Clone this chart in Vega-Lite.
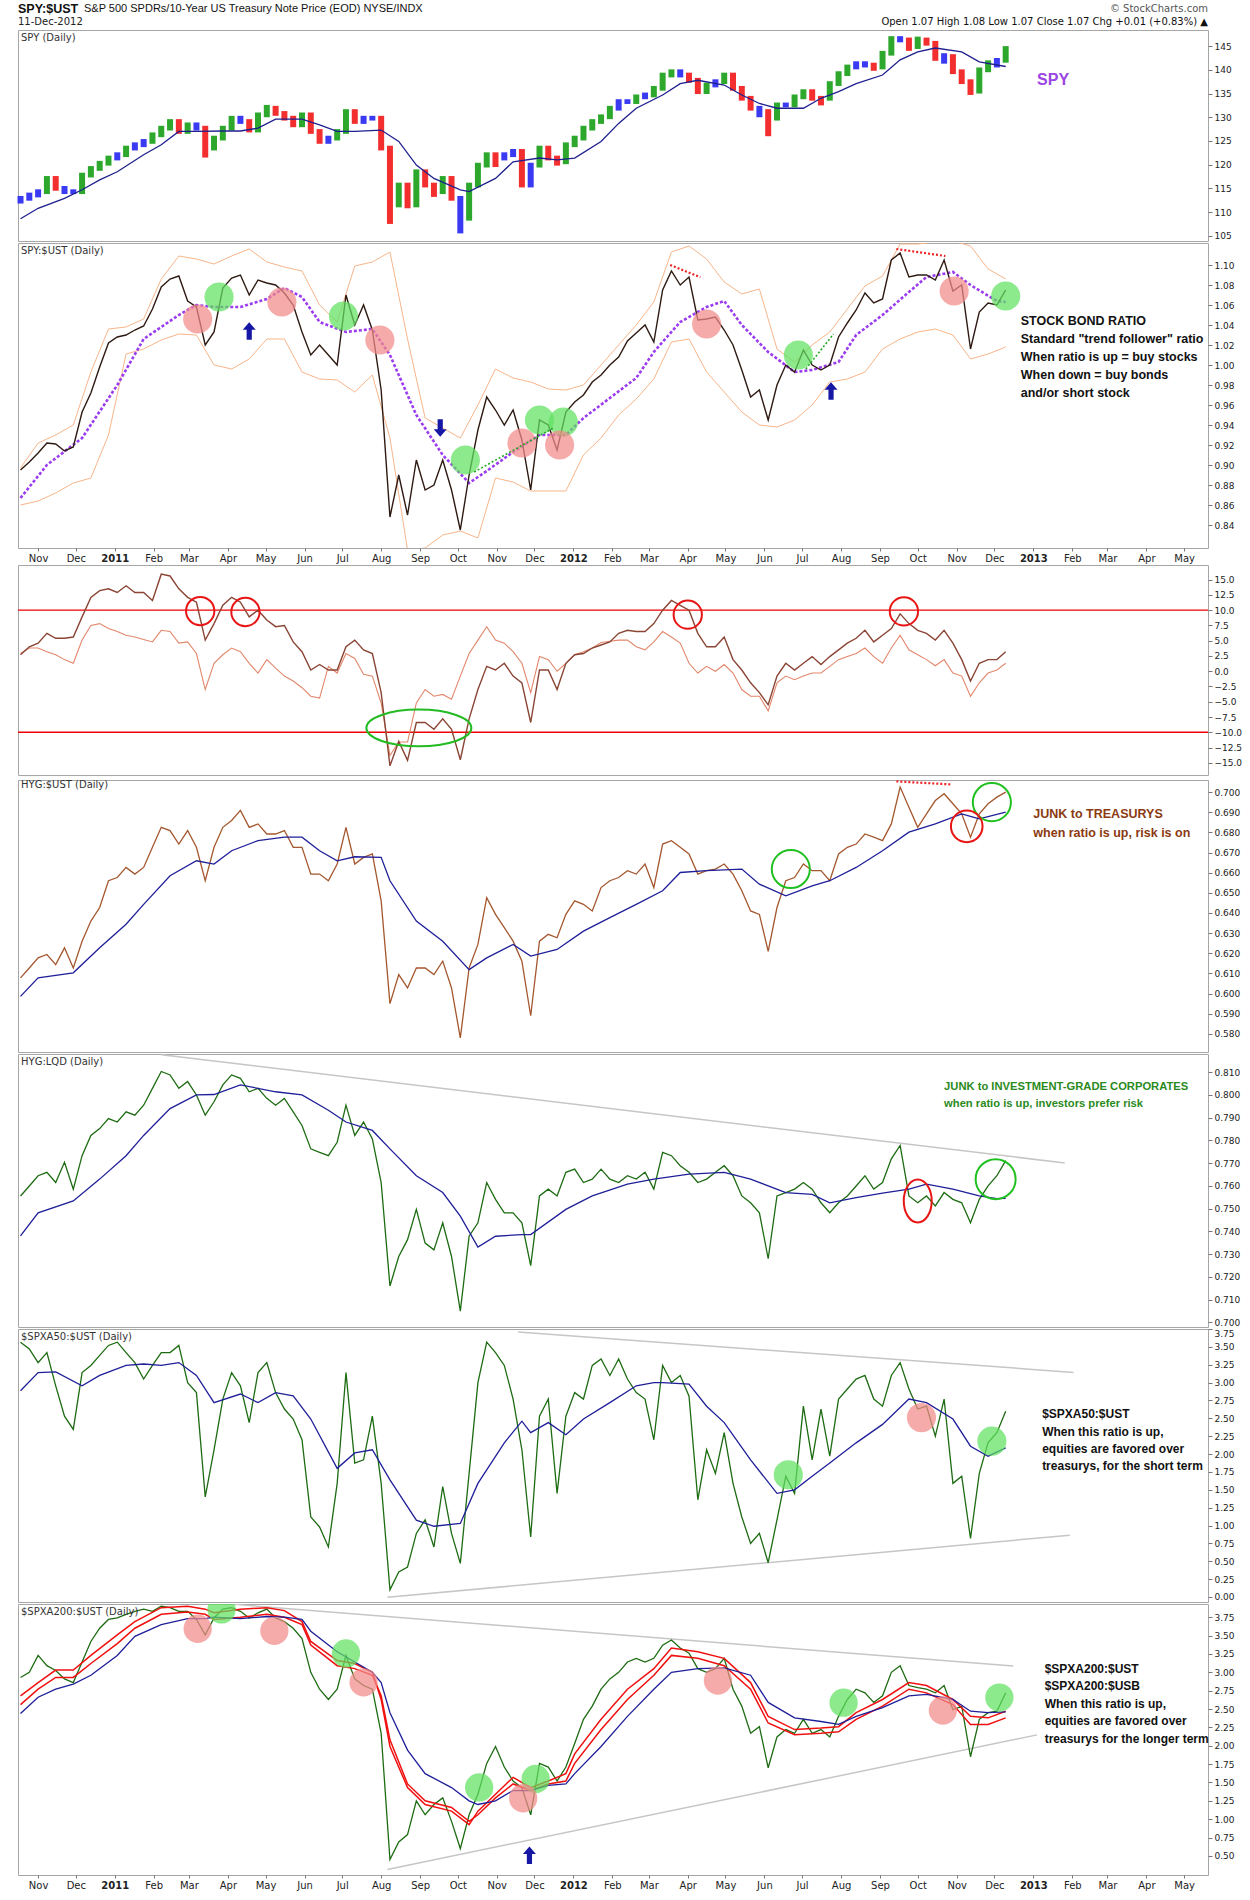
{
  "$schema": "https://vega.github.io/schema/vega-lite/v6.json",
  "background": "white",
  "padding": {"left": 16, "top": 2, "right": 4, "bottom": 0},
  "spacing": 0,
  "resolve": {"scale": {"x": "independent", "y": "independent", "color": "independent"}},
  "config": {
    "font": "DejaVu Sans",
    "view": {"stroke": "#a6a6a6", "strokeWidth": 1},
    "axis": {"grid": false, "domain": false, "tickSize": 4, "tickColor": "#777777", "labelFontSize": 9, "labelColor": "#222222", "labelPadding": 2, "labelOverlap": false, "labelFlush": false, "labelFont": "DejaVu Sans"},
    "title": {"anchor": "start", "frame": "group", "offset": -13, "dx": 3, "fontSize": 10, "fontWeight": "normal", "color": "#333333", "font": "DejaVu Sans"}
  },
  "datasets": {
    "w": [
      {"d":"2010-10-18","lo":111.8,"hi":113.4,"c":"b","r":0.895,"m1":2.7,"m2":2.9,"hy":0.6078,"hl":0.7556,"a5":3.566,"a2":2.93},
      {"d":"2010-10-25","lo":112.4,"hi":114.1,"c":"b","r":0.903,"m1":4.0,"m2":3.8,"hy":0.6127,"hl":0.760,"a5":3.47,"a2":3.0},
      {"d":"2010-11-01","lo":113.1,"hi":114.8,"c":"b","r":0.912,"m1":4.6,"m2":3.8,"hy":0.6177,"hl":0.7645,"a5":3.28,"a2":3.23},
      {"d":"2010-11-08","lo":113.8,"hi":117.6,"c":"g","r":0.922,"m1":6.2,"m2":3.2,"hy":0.6194,"hl":0.766,"a5":3.42,"a2":3.09},
      {"d":"2010-11-15","lo":114.5,"hi":117.6,"c":"r","r":0.921,"m1":5.4,"m2":2.7,"hy":0.6144,"hl":0.7615,"a5":2.955,"a2":3.025},
      {"d":"2010-11-22","lo":113.8,"hi":115.5,"c":"b","r":0.914,"m1":5.4,"m2":1.9,"hy":0.6227,"hl":0.7704,"a5":2.53,"a2":2.91},
      {"d":"2010-11-29","lo":113.8,"hi":114.8,"c":"b","r":0.918,"m1":5.6,"m2":1.3,"hy":0.6127,"hl":0.7586,"a5":2.345,"a2":2.86},
      {"d":"2010-12-06","lo":113.8,"hi":118.3,"c":"g","r":0.953,"m1":8.9,"m2":5.1,"hy":0.626,"hl":0.7733,"a5":3.14,"a2":3.14},
      {"d":"2010-12-13","lo":117.3,"hi":119.7,"c":"g","r":0.972,"m1":12.1,"m2":7.5,"hy":0.636,"hl":0.7822,"a5":3.24,"a2":3.42},
      {"d":"2010-12-20","lo":118.7,"hi":120.8,"c":"g","r":0.998,"m1":13.2,"m2":7.8,"hy":0.6427,"hl":0.7852,"a5":3.38,"a2":3.60},
      {"d":"2010-12-27","lo":119.8,"hi":121.9,"c":"g","r":1.022,"m1":13.5,"m2":7.0,"hy":0.656,"hl":0.7896,"a5":3.52,"a2":3.72},
      {"d":"2011-01-03","lo":120.9,"hi":122.6,"c":"b","r":1.028,"m1":12.9,"m2":6.5,"hy":0.6576,"hl":0.7881,"a5":3.566,"a2":3.74},
      {"d":"2011-01-10","lo":121.6,"hi":124.0,"c":"g","r":1.03,"m1":14.0,"m2":5.9,"hy":0.6626,"hl":0.7926,"a5":3.42,"a2":3.79},
      {"d":"2011-01-17","lo":123.0,"hi":124.7,"c":"b","r":1.035,"m1":12.9,"m2":5.6,"hy":0.6593,"hl":0.7911,"a5":3.28,"a2":3.83},
      {"d":"2011-01-24","lo":123.7,"hi":125.4,"c":"b","r":1.039,"m1":12.9,"m2":5.2,"hy":0.6626,"hl":0.7955,"a5":3.05,"a2":3.86},
      {"d":"2011-01-31","lo":124.4,"hi":126.8,"c":"g","r":1.056,"m1":11.6,"m2":4.8,"hy":0.6726,"hl":0.8029,"a5":3.24,"a2":3.83},
      {"d":"2011-02-07","lo":125.8,"hi":128.2,"c":"g","r":1.078,"m1":15.9,"m2":6.7,"hy":0.6825,"hl":0.8103,"a5":3.42,"a2":3.90},
      {"d":"2011-02-14","lo":127.2,"hi":129.6,"c":"g","r":1.086,"m1":15.6,"m2":6.5,"hy":0.6809,"hl":0.8088,"a5":3.42,"a2":3.88},
      {"d":"2011-02-21","lo":126.5,"hi":129.6,"c":"r","r":1.089,"m1":13.5,"m2":4.6,"hy":0.6742,"hl":0.8029,"a5":3.52,"a2":3.83},
      {"d":"2011-02-28","lo":126.5,"hi":128.9,"c":"g","r":1.064,"m1":12.1,"m2":4.8,"hy":0.6809,"hl":0.8059,"a5":3.0,"a2":3.83},
      {"d":"2011-03-07","lo":127.2,"hi":128.9,"c":"b","r":1.058,"m1":11.3,"m2":2.9,"hy":0.6726,"hl":0.80,"a5":2.86,"a2":3.72},
      {"d":"2011-03-14","lo":121.5,"hi":128.2,"c":"r","r":1.02,"m1":5.1,"m2":-3.0,"hy":0.656,"hl":0.7911,"a5":1.4,"a2":3.51},
      {"d":"2011-03-21","lo":123.0,"hi":126.1,"c":"g","r":1.033,"m1":7.8,"m2":1.3,"hy":0.6726,"hl":0.797,"a5":2.06,"a2":3.74},
      {"d":"2011-03-28","lo":125.1,"hi":128.2,"c":"g","r":1.077,"m1":10.8,"m2":2.7,"hy":0.6825,"hl":0.8044,"a5":2.77,"a2":3.86},
      {"d":"2011-04-04","lo":127.2,"hi":130.3,"c":"g","r":1.087,"m1":12.1,"m2":3.8,"hy":0.6859,"hl":0.8088,"a5":3.14,"a2":3.88},
      {"d":"2011-04-11","lo":128.6,"hi":130.3,"c":"b","r":1.09,"m1":11.3,"m2":3.2,"hy":0.6909,"hl":0.8073,"a5":2.955,"a2":3.83},
      {"d":"2011-04-18","lo":126.8,"hi":129.6,"c":"r","r":1.07,"m1":8.9,"m2":1.3,"hy":0.6825,"hl":0.8014,"a5":2.44,"a2":3.74},
      {"d":"2011-04-25","lo":126.8,"hi":131.0,"c":"g","r":1.085,"m1":10.0,"m2":-0.3,"hy":0.6842,"hl":0.8029,"a5":3.14,"a2":3.81},
      {"d":"2011-05-02","lo":130.0,"hi":132.6,"c":"g","r":1.082,"m1":8.4,"m2":1.9,"hy":0.6792,"hl":0.7985,"a5":3.28,"a2":3.86},
      {"d":"2011-05-09","lo":130.3,"hi":132.4,"c":"r","r":1.08,"m1":7.3,"m2":0.5,"hy":0.6792,"hl":0.7955,"a5":2.86,"a2":3.74},
      {"d":"2011-05-16","lo":129.3,"hi":131.3,"c":"r","r":1.072,"m1":7.5,"m2":-0.8,"hy":0.6809,"hl":0.7985,"a5":2.63,"a2":3.69},
      {"d":"2011-05-23","lo":127.9,"hi":130.3,"c":"r","r":1.06,"m1":4.8,"m2":-1.6,"hy":0.6726,"hl":0.7926,"a5":2.49,"a2":3.60},
      {"d":"2011-05-30","lo":127.9,"hi":131.0,"c":"g","r":1.033,"m1":3.2,"m2":-2.7,"hy":0.6726,"hl":0.7866,"a5":2.20,"a2":3.46},
      {"d":"2011-06-06","lo":126.5,"hi":131.0,"c":"r","r":1.01,"m1":0.2,"m2":-4.1,"hy":0.6593,"hl":0.7763,"a5":1.12,"a2":3.0},
      {"d":"2011-06-13","lo":124.4,"hi":127.5,"c":"r","r":1.02,"m1":1.1,"m2":-4.4,"hy":0.6593,"hl":0.7748,"a5":0.98,"a2":2.77},
      {"d":"2011-06-20","lo":124.4,"hi":126.1,"c":"b","r":1.01,"m1":0.2,"m2":0.8,"hy":0.656,"hl":0.7733,"a5":0.7,"a2":2.63},
      {"d":"2011-06-27","lo":125.1,"hi":127.5,"c":"g","r":1.0,"m1":0.2,"m2":-0.3,"hy":0.6643,"hl":0.7792,"a5":1.59,"a2":2.77},
      {"d":"2011-07-04","lo":126.5,"hi":131.7,"c":"g","r":1.07,"m1":4.0,"m2":2.9,"hy":0.6825,"hl":0.7955,"a5":3.14,"a2":3.23},
      {"d":"2011-07-11","lo":128.6,"hi":131.7,"c":"r","r":1.04,"m1":5.1,"m2":2.1,"hy":0.6643,"hl":0.7822,"a5":1.875,"a2":2.91},
      {"d":"2011-07-18","lo":128.6,"hi":130.3,"c":"b","r":1.06,"m1":3.5,"m2":-0.5,"hy":0.6676,"hl":0.7881,"a5":1.92,"a2":2.82},
      {"d":"2011-07-25","lo":129.3,"hi":130.3,"c":"b","r":1.035,"m1":2.9,"m2":-0.8,"hy":0.6693,"hl":0.7807,"a5":2.53,"a2":2.77},
      {"d":"2011-08-01","lo":123.0,"hi":130.3,"c":"r","r":0.975,"m1":-3.5,"m2":-5.2,"hy":0.646,"hl":0.7615,"a5":1.59,"a2":2.17},
      {"d":"2011-08-08","lo":107.5,"hi":124.0,"c":"r","r":0.848,"m1":-15.5,"m2":-13.8,"hy":0.595,"hl":0.716,"a5":0.1,"a2":0.45},
      {"d":"2011-08-15","lo":111.0,"hi":116.2,"c":"g","r":0.89,"m1":-11.5,"m2":-11.6,"hy":0.6094,"hl":0.729,"a5":0.35,"a2":0.69},
      {"d":"2011-08-22","lo":110.8,"hi":116.2,"c":"r","r":0.85,"m1":-14.6,"m2":-11.6,"hy":0.6028,"hl":0.7364,"a5":0.42,"a2":0.79},
      {"d":"2011-08-29","lo":111.0,"hi":119.0,"c":"g","r":0.905,"m1":-8.4,"m2":-5.2,"hy":0.6127,"hl":0.7497,"a5":0.89,"a2":1.25},
      {"d":"2011-09-05","lo":115.2,"hi":119.0,"c":"r","r":0.875,"m1":-8.4,"m2":-3.0,"hy":0.6127,"hl":0.7349,"a5":1.08,"a2":1.06},
      {"d":"2011-09-12","lo":113.2,"hi":116.2,"c":"r","r":0.88,"m1":-9.5,"m2":-4.1,"hy":0.6094,"hl":0.7319,"a5":0.70,"a2":1.20},
      {"d":"2011-09-19","lo":113.8,"hi":117.6,"c":"g","r":0.905,"m1":-7.8,"m2":-3.8,"hy":0.6161,"hl":0.7438,"a5":1.546,"a2":1.29},
      {"d":"2011-09-26","lo":112.4,"hi":117.6,"c":"r","r":0.875,"m1":-9.5,"m2":-4.6,"hy":0.6028,"hl":0.729,"a5":0.89,"a2":0.97},
      {"d":"2011-10-03","lo":105.5,"hi":113.4,"c":"b","r":0.835,"m1":-14.5,"m2":-0.8,"hy":0.578,"hl":0.705,"a5":0.47,"a2":0.6},
      {"d":"2011-10-10","lo":108.2,"hi":116.2,"c":"g","r":0.89,"m1":-7.8,"m2":2.9,"hy":0.6127,"hl":0.7379,"a5":1.73,"a2":1.06},
      {"d":"2011-10-17","lo":115.2,"hi":120.4,"c":"g","r":0.935,"m1":-3.0,"m2":5.1,"hy":0.6244,"hl":0.7438,"a5":3.0,"a2":1.34},
      {"d":"2011-10-24","lo":119.4,"hi":122.6,"c":"g","r":0.968,"m1":0.8,"m2":7.3,"hy":0.6476,"hl":0.7615,"a5":3.566,"a2":1.76},
      {"d":"2011-10-31","lo":119.5,"hi":122.6,"c":"r","r":0.955,"m1":0.2,"m2":5.1,"hy":0.6393,"hl":0.7541,"a5":3.42,"a2":1.99},
      {"d":"2011-11-07","lo":120.9,"hi":122.6,"c":"b","r":0.94,"m1":1.3,"m2":4.6,"hy":0.6327,"hl":0.7482,"a5":3.24,"a2":1.71},
      {"d":"2011-11-14","lo":121.6,"hi":123.3,"c":"b","r":0.955,"m1":-0.8,"m2":3.2,"hy":0.626,"hl":0.7482,"a5":2.77,"a2":1.52},
      {"d":"2011-11-21","lo":115.2,"hi":123.3,"c":"r","r":0.925,"m1":-1.9,"m2":1.3,"hy":0.6161,"hl":0.7438,"a5":2.06,"a2":1.43},
      {"d":"2011-11-28","lo":115.2,"hi":120.4,"c":"b","r":0.875,"m1":-8.4,"m2":-3.5,"hy":0.589,"hl":0.725,"a5":0.84,"a2":1.06},
      {"d":"2011-12-05","lo":119.4,"hi":124.0,"c":"g","r":0.945,"m1":0.2,"m2":2.4,"hy":0.626,"hl":0.7556,"a5":2.53,"a2":1.76},
      {"d":"2011-12-12","lo":120.9,"hi":124.0,"c":"r","r":0.94,"m1":0.2,"m2":1.9,"hy":0.6294,"hl":0.7586,"a5":2.77,"a2":1.71},
      {"d":"2011-12-19","lo":119.8,"hi":121.9,"c":"r","r":0.915,"m1":-3.0,"m2":0.0,"hy":0.6277,"hl":0.7556,"a5":1.45,"a2":1.52},
      {"d":"2011-12-26","lo":120.1,"hi":124.7,"c":"g","r":0.953,"m1":1.3,"m2":1.3,"hy":0.6393,"hl":0.766,"a5":2.53,"a2":1.71},
      {"d":"2012-01-02","lo":123.7,"hi":126.1,"c":"g","r":0.963,"m1":2.7,"m2":2.7,"hy":0.646,"hl":0.7674,"a5":2.86,"a2":2.03},
      {"d":"2012-01-09","lo":125.1,"hi":128.2,"c":"g","r":0.97,"m1":2.9,"m2":3.2,"hy":0.6443,"hl":0.7615,"a5":2.77,"a2":2.36},
      {"d":"2012-01-16","lo":127.2,"hi":129.6,"c":"g","r":0.983,"m1":3.8,"m2":3.8,"hy":0.641,"hl":0.763,"a5":3.24,"a2":2.54},
      {"d":"2012-01-23","lo":128.6,"hi":130.6,"c":"g","r":0.99,"m1":4.3,"m2":4.7,"hy":0.6526,"hl":0.7674,"a5":3.33,"a2":2.77},
      {"d":"2012-01-30","lo":129.6,"hi":132.4,"c":"g","r":1.0,"m1":4.8,"m2":4.9,"hy":0.656,"hl":0.763,"a5":3.10,"a2":2.91},
      {"d":"2012-02-06","lo":131.4,"hi":133.8,"c":"b","r":1.008,"m1":6.2,"m2":5.1,"hy":0.6576,"hl":0.7615,"a5":3.33,"a2":3.0},
      {"d":"2012-02-13","lo":132.8,"hi":133.8,"c":"b","r":1.024,"m1":6.7,"m2":5.1,"hy":0.661,"hl":0.7645,"a5":3.05,"a2":3.14},
      {"d":"2012-02-20","lo":132.8,"hi":134.8,"c":"g","r":1.032,"m1":6.5,"m2":4.0,"hy":0.6593,"hl":0.763,"a5":2.86,"a2":3.19},
      {"d":"2012-02-27","lo":133.8,"hi":135.2,"c":"b","r":1.04,"m1":6.5,"m2":3.5,"hy":0.6643,"hl":0.766,"a5":2.77,"a2":3.14},
      {"d":"2012-03-05","lo":134.2,"hi":136.6,"c":"g","r":1.023,"m1":7.8,"m2":4.8,"hy":0.6526,"hl":0.7586,"a5":2.20,"a2":3.19},
      {"d":"2012-03-12","lo":135.6,"hi":139.4,"c":"g","r":1.075,"m1":10.0,"m2":6.5,"hy":0.6742,"hl":0.7748,"a5":3.24,"a2":3.37},
      {"d":"2012-03-19","lo":138.4,"hi":140.1,"c":"g","r":1.094,"m1":11.6,"m2":5.6,"hy":0.6759,"hl":0.7733,"a5":3.0,"a2":3.44},
      {"d":"2012-03-26","lo":138.4,"hi":140.1,"c":"b","r":1.08,"m1":10.8,"m2":4.6,"hy":0.6726,"hl":0.7689,"a5":3.10,"a2":3.33},
      {"d":"2012-04-02","lo":137.3,"hi":139.4,"c":"r","r":1.088,"m1":10.0,"m2":1.3,"hy":0.6693,"hl":0.766,"a5":2.81,"a2":3.26},
      {"d":"2012-04-09","lo":134.9,"hi":138.3,"c":"r","r":1.045,"m1":6.2,"m2":-0.3,"hy":0.6593,"hl":0.7615,"a5":1.36,"a2":3.05},
      {"d":"2012-04-16","lo":134.9,"hi":137.3,"c":"g","r":1.046,"m1":4.0,"m2":0.8,"hy":0.661,"hl":0.763,"a5":2.06,"a2":3.0},
      {"d":"2012-04-23","lo":136.3,"hi":138.0,"c":"b","r":1.048,"m1":4.0,"m2":0.0,"hy":0.6618,"hl":0.766,"a5":1.73,"a2":3.05},
      {"d":"2012-04-30","lo":137.0,"hi":139.4,"c":"g","r":1.035,"m1":5.6,"m2":1.1,"hy":0.6643,"hl":0.7689,"a5":2.30,"a2":3.19},
      {"d":"2012-05-07","lo":135.6,"hi":139.4,"c":"r","r":1.02,"m1":1.9,"m2":-0.3,"hy":0.6593,"hl":0.7645,"a5":1.59,"a2":2.77},
      {"d":"2012-05-14","lo":133.5,"hi":136.6,"c":"r","r":0.995,"m1":0.2,"m2":-3.0,"hy":0.651,"hl":0.7556,"a5":1.12,"a2":2.54},
      {"d":"2012-05-21","lo":131.4,"hi":134.5,"c":"r","r":0.968,"m1":-1.9,"m2":-4.1,"hy":0.641,"hl":0.7526,"a5":0.75,"a2":2.17},
      {"d":"2012-05-28","lo":130.0,"hi":132.4,"c":"b","r":0.975,"m1":-3.5,"m2":-4.1,"hy":0.6393,"hl":0.7482,"a5":0.89,"a2":2.26},
      {"d":"2012-06-04","lo":126.0,"hi":131.7,"c":"r","r":0.945,"m1":-5.5,"m2":-6.5,"hy":0.621,"hl":0.728,"a5":0.48,"a2":1.7},
      {"d":"2012-06-11","lo":129.3,"hi":133.1,"c":"g","r":0.98,"m1":-0.8,"m2":-1.9,"hy":0.6427,"hl":0.7556,"a5":1.08,"a2":2.12},
      {"d":"2012-06-18","lo":132.1,"hi":133.1,"c":"b","r":1.0,"m1":1.3,"m2":-0.8,"hy":0.656,"hl":0.7571,"a5":1.69,"a2":2.22},
      {"d":"2012-06-25","lo":132.1,"hi":134.8,"c":"g","r":0.993,"m1":0.2,"m2":-1.4,"hy":0.6576,"hl":0.7586,"a5":1.45,"a2":2.17},
      {"d":"2012-07-02","lo":133.8,"hi":135.9,"c":"g","r":1.015,"m1":1.3,"m2":-0.8,"hy":0.6643,"hl":0.7615,"a5":2.67,"a2":2.36},
      {"d":"2012-07-09","lo":133.5,"hi":135.9,"c":"r","r":1.0,"m1":2.4,"m2":-0.3,"hy":0.661,"hl":0.7586,"a5":1.92,"a2":2.17},
      {"d":"2012-07-16","lo":132.5,"hi":134.5,"c":"r","r":0.995,"m1":1.1,"m2":-0.3,"hy":0.661,"hl":0.7526,"a5":2.63,"a2":2.22},
      {"d":"2012-07-23","lo":133.5,"hi":137.6,"c":"g","r":1.0,"m1":2.4,"m2":0.8,"hy":0.656,"hl":0.7482,"a5":1.97,"a2":2.12},
      {"d":"2012-07-30","lo":136.6,"hi":139.7,"c":"g","r":1.028,"m1":3.5,"m2":1.9,"hy":0.6693,"hl":0.7526,"a5":2.77,"a2":2.40},
      {"d":"2012-08-06","lo":138.7,"hi":141.1,"c":"g","r":1.042,"m1":4.6,"m2":2.4,"hy":0.6726,"hl":0.7556,"a5":2.91,"a2":2.63},
      {"d":"2012-08-13","lo":140.1,"hi":141.8,"c":"b","r":1.055,"m1":5.4,"m2":2.9,"hy":0.6742,"hl":0.760,"a5":3.05,"a2":2.77},
      {"d":"2012-08-20","lo":140.5,"hi":141.8,"c":"b","r":1.072,"m1":6.7,"m2":3.8,"hy":0.6792,"hl":0.7645,"a5":3.10,"a2":2.72},
      {"d":"2012-08-27","lo":139.8,"hi":141.5,"c":"r","r":1.062,"m1":4.8,"m2":2.4,"hy":0.6776,"hl":0.7586,"a5":2.77,"a2":2.59},
      {"d":"2012-09-03","lo":140.1,"hi":144.0,"c":"g","r":1.066,"m1":5.9,"m2":1.3,"hy":0.6759,"hl":0.7615,"a5":2.67,"a2":2.68},
      {"d":"2012-09-10","lo":143.0,"hi":147.1,"c":"g","r":1.105,"m1":7.0,"m2":3.8,"hy":0.6842,"hl":0.7719,"a5":3.10,"a2":3.0},
      {"d":"2012-09-17","lo":145.8,"hi":147.1,"c":"b","r":1.112,"m1":9.4,"m2":5.9,"hy":0.7025,"hl":0.7778,"a5":3.28,"a2":3.09},
      {"d":"2012-09-24","lo":144.0,"hi":146.8,"c":"r","r":1.088,"m1":7.8,"m2":3.5,"hy":0.6925,"hl":0.7556,"a5":2.91,"a2":2.82},
      {"d":"2012-10-01","lo":144.4,"hi":147.0,"c":"g","r":1.09,"m1":6.7,"m2":2.7,"hy":0.6825,"hl":0.7526,"a5":2.63,"a2":2.79},
      {"d":"2012-10-08","lo":145.1,"hi":146.8,"c":"r","r":1.09,"m1":6.2,"m2":1.9,"hy":0.6892,"hl":0.7556,"a5":2.67,"a2":2.77},
      {"d":"2012-10-15","lo":141.9,"hi":146.1,"c":"r","r":1.085,"m1":5.1,"m2":0.9,"hy":0.6958,"hl":0.7512,"a5":2.25,"a2":2.72},
      {"d":"2012-10-22","lo":141.3,"hi":143.5,"c":"b","r":1.105,"m1":6.7,"m2":1.9,"hy":0.6992,"hl":0.7571,"a5":2.77,"a2":2.82},
      {"d":"2012-10-29","lo":139.1,"hi":143.3,"c":"r","r":1.074,"m1":4.6,"m2":-0.3,"hy":0.6942,"hl":0.7541,"a5":1.59,"a2":2.49},
      {"d":"2012-11-05","lo":137.0,"hi":140.1,"c":"r","r":1.08,"m1":1.9,"m2":-0.8,"hy":0.6892,"hl":0.7526,"a5":1.69,"a2":2.54},
      {"d":"2012-11-12","lo":134.7,"hi":138.0,"c":"r","r":1.016,"m1":-1.6,"m2":-4.1,"hy":0.6776,"hl":0.7438,"a5":0.82,"a2":1.85},
      {"d":"2012-11-19","lo":135.0,"hi":140.5,"c":"g","r":1.053,"m1":1.3,"m2":-1.9,"hy":0.6892,"hl":0.7541,"a5":1.73,"a2":2.36},
      {"d":"2012-11-26","lo":139.5,"hi":142.0,"c":"g","r":1.062,"m1":1.9,"m2":-0.3,"hy":0.6942,"hl":0.760,"a5":2.16,"a2":2.45},
      {"d":"2012-12-03","lo":140.5,"hi":142.5,"c":"b","r":1.06,"m1":1.9,"m2":0.2,"hy":0.6975,"hl":0.7645,"a5":2.30,"a2":2.47},
      {"d":"2012-12-10","lo":141.5,"hi":145.0,"c":"g","r":1.075,"m1":3.2,"m2":1.3,"hy":0.700,"hl":0.7711,"a5":2.60,"a2":2.72}
    ],
    "spyma": [
      {"d":"2010-10-18","v":108.6},{"d":"2010-11-01","v":110.8},{"d":"2010-11-22","v":112.9},{"d":"2010-12-06","v":114.7},
      {"d":"2010-12-20","v":116.8},{"d":"2011-01-03","v":118.5},{"d":"2011-01-24","v":122.1},{"d":"2011-02-07","v":124.2},
      {"d":"2011-02-21","v":127.0},{"d":"2011-03-07","v":127.0},{"d":"2011-03-28","v":127.1},{"d":"2011-04-11","v":127.1},
      {"d":"2011-04-25","v":127.7},{"d":"2011-05-09","v":129.6},{"d":"2011-05-30","v":129.6},{"d":"2011-06-13","v":128.4},
      {"d":"2011-06-27","v":127.0},{"d":"2011-07-11","v":127.0},{"d":"2011-08-01","v":127.3},{"d":"2011-08-15","v":124.9},
      {"d":"2011-08-29","v":119.9},{"d":"2011-09-12","v":117.1},{"d":"2011-10-03","v":114.7},{"d":"2011-10-10","v":114.3},
      {"d":"2011-10-31","v":117.1},{"d":"2011-11-14","v":120.6},{"d":"2011-12-05","v":121.4},{"d":"2011-12-19","v":121.0},
      {"d":"2012-01-02","v":121.4},{"d":"2012-01-23","v":124.9},{"d":"2012-02-06","v":128.7},{"d":"2012-02-20","v":131.9},
      {"d":"2012-03-12","v":134.7},{"d":"2012-03-26","v":137.1},{"d":"2012-04-09","v":137.8},{"d":"2012-04-30","v":136.8},
      {"d":"2012-05-14","v":134.7},{"d":"2012-05-28","v":132.9},{"d":"2012-06-11","v":131.9},{"d":"2012-07-02","v":131.9},
      {"d":"2012-07-16","v":134.0},{"d":"2012-07-30","v":135.4},{"d":"2012-08-13","v":137.1},{"d":"2012-09-03","v":138.9},
      {"d":"2012-09-17","v":142.1},{"d":"2012-10-01","v":143.8},{"d":"2012-10-15","v":144.6},{"d":"2012-11-05","v":143.8},
      {"d":"2012-11-19","v":141.7},{"d":"2012-12-10","v":140.7}
    ],
    "rma": [
      {"d":"2010-10-18","v":0.867},{"d":"2010-11-08","v":0.90},{"d":"2010-12-06","v":0.927},{"d":"2011-01-03","v":0.98},
      {"d":"2011-01-24","v":1.026},{"d":"2011-02-21","v":1.05},{"d":"2011-03-07","v":1.06},{"d":"2011-03-21","v":1.058},
      {"d":"2011-04-11","v":1.058},{"d":"2011-05-02","v":1.066},{"d":"2011-05-16","v":1.077},{"d":"2011-05-30","v":1.068},
      {"d":"2011-06-13","v":1.043},{"d":"2011-07-04","v":1.033},{"d":"2011-07-25","v":1.036},{"d":"2011-08-08","v":1.01},
      {"d":"2011-08-29","v":0.95},{"d":"2011-09-19","v":0.91},{"d":"2011-10-10","v":0.882},{"d":"2011-10-24","v":0.894},
      {"d":"2011-11-14","v":0.913},{"d":"2011-12-05","v":0.93},{"d":"2011-12-26","v":0.93},{"d":"2012-01-09","v":0.947},
      {"d":"2012-01-30","v":0.967},{"d":"2012-02-20","v":0.987},{"d":"2012-03-05","v":1.013},{"d":"2012-03-26","v":1.043},
      {"d":"2012-04-16","v":1.058},{"d":"2012-04-30","v":1.064},{"d":"2012-05-14","v":1.04},{"d":"2012-06-04","v":1.013},
      {"d":"2012-06-25","v":0.993},{"d":"2012-07-09","v":0.995},{"d":"2012-07-30","v":1.003},{"d":"2012-08-13","v":1.03},
      {"d":"2012-09-03","v":1.05},{"d":"2012-09-24","v":1.073},{"d":"2012-10-08","v":1.088},{"d":"2012-10-29","v":1.093},
      {"d":"2012-11-12","v":1.08},{"d":"2012-12-03","v":1.064},{"d":"2012-12-10","v":1.063}
    ],
    "bb": [
      {"d":"2010-10-18","u":0.897,"l":0.860},{"d":"2010-11-01","u":0.922,"l":0.864},{"d":"2010-11-15","u":0.930,"l":0.872},
      {"d":"2010-11-29","u":0.940,"l":0.882},{"d":"2010-12-13","u":0.993,"l":0.887},{"d":"2010-12-27","u":1.036,"l":0.930},
      {"d":"2011-01-10","u":1.038,"l":1.011},{"d":"2011-01-24","u":1.046,"l":1.016},{"d":"2011-02-07","u":1.086,"l":1.025},
      {"d":"2011-02-21","u":1.109,"l":1.031},{"d":"2011-03-07","u":1.106,"l":1.030},{"d":"2011-03-21","u":1.101,"l":1.0},
      {"d":"2011-04-04","u":1.109,"l":0.996},{"d":"2011-04-18","u":1.116,"l":1.006},{"d":"2011-05-02","u":1.103,"l":1.026},
      {"d":"2011-05-16","u":1.098,"l":1.026},{"d":"2011-05-30","u":1.094,"l":0.993},{"d":"2011-06-13","u":1.06,"l":0.986},
      {"d":"2011-06-27","u":1.043,"l":0.985},{"d":"2011-07-11","u":1.099,"l":0.973},{"d":"2011-07-25","u":1.103,"l":0.990},
      {"d":"2011-08-08","u":1.113,"l":0.927},{"d":"2011-08-22","u":1.026,"l":0.815},{"d":"2011-09-05","u":0.947,"l":0.817},
      {"d":"2011-09-19","u":0.937,"l":0.830},{"d":"2011-10-03","u":0.927,"l":0.834},{"d":"2011-10-17","u":0.96,"l":0.827},
      {"d":"2011-10-31","u":0.996,"l":0.887},{"d":"2011-11-14","u":0.987,"l":0.883},{"d":"2011-11-28","u":0.983,"l":0.874},
      {"d":"2011-12-12","u":0.976,"l":0.874},{"d":"2011-12-26","u":0.975,"l":0.874},{"d":"2012-01-09","u":0.98,"l":0.91},
      {"d":"2012-01-23","u":1.0,"l":0.927},{"d":"2012-02-06","u":1.02,"l":0.95},{"d":"2012-02-20","u":1.04,"l":0.966},
      {"d":"2012-03-05","u":1.063,"l":0.986},{"d":"2012-03-19","u":1.113,"l":1.023},{"d":"2012-04-02","u":1.119,"l":1.026},
      {"d":"2012-04-16","u":1.106,"l":0.993},{"d":"2012-04-30","u":1.083,"l":0.973},{"d":"2012-05-14","u":1.071,"l":0.953},
      {"d":"2012-05-28","u":1.076,"l":0.94},{"d":"2012-06-11","u":1.016,"l":0.938},{"d":"2012-06-25","u":1.003,"l":0.945},
      {"d":"2012-07-09","u":1.02,"l":0.96},{"d":"2012-07-23","u":1.033,"l":0.983},{"d":"2012-08-06","u":1.056,"l":0.986},
      {"d":"2012-08-20","u":1.079,"l":0.993},{"d":"2012-09-03","u":1.089,"l":1.016},{"d":"2012-09-17","u":1.121,"l":1.026},
      {"d":"2012-10-01","u":1.121,"l":1.033},{"d":"2012-10-15","u":1.123,"l":1.036},{"d":"2012-10-29","u":1.124,"l":1.03},
      {"d":"2012-11-12","u":1.119,"l":1.006},{"d":"2012-11-26","u":1.096,"l":1.011},{"d":"2012-12-10","u":1.086,"l":1.018}
    ],
    "hyma": [
      {"d":"2010-10-18","v":0.5986},{"d":"2010-11-01","v":0.6078},{"d":"2010-11-29","v":0.6103},{"d":"2010-12-20","v":0.6227},
      {"d":"2011-01-10","v":0.6344},{"d":"2011-01-24","v":0.6443},{"d":"2011-02-14","v":0.6585},{"d":"2011-03-07","v":0.6659},
      {"d":"2011-03-21","v":0.6643},{"d":"2011-04-04","v":0.6709},{"d":"2011-04-25","v":0.6759},{"d":"2011-05-16","v":0.6776},
      {"d":"2011-05-30","v":0.6776},{"d":"2011-06-13","v":0.6709},{"d":"2011-06-27","v":0.6659},{"d":"2011-07-11","v":0.6679},
      {"d":"2011-08-01","v":0.6676},{"d":"2011-08-08","v":0.656},{"d":"2011-08-29","v":0.636},{"d":"2011-09-19","v":0.626},
      {"d":"2011-10-10","v":0.6119},{"d":"2011-10-24","v":0.6177},{"d":"2011-11-14","v":0.6244},{"d":"2011-11-28","v":0.6186},
      {"d":"2011-12-19","v":0.6219},{"d":"2012-01-09","v":0.631},{"d":"2012-01-30","v":0.6377},{"d":"2012-02-20","v":0.6443},
      {"d":"2012-03-12","v":0.651},{"d":"2012-03-26","v":0.6601},{"d":"2012-04-16","v":0.661},{"d":"2012-05-14","v":0.6618},
      {"d":"2012-05-28","v":0.6543},{"d":"2012-06-18","v":0.6485},{"d":"2012-07-09","v":0.6535},{"d":"2012-07-23","v":0.656},
      {"d":"2012-08-13","v":0.6626},{"d":"2012-09-03","v":0.6709},{"d":"2012-09-24","v":0.6801},{"d":"2012-10-15","v":0.6842},
      {"d":"2012-11-05","v":0.6892},{"d":"2012-11-19","v":0.6867},{"d":"2012-12-10","v":0.69}
    ],
    "hlma": [
      {"d":"2010-10-18","v":0.7381},{"d":"2010-11-01","v":0.7482},{"d":"2010-11-29","v":0.7534},{"d":"2010-12-20","v":0.763},
      {"d":"2011-01-10","v":0.7733},{"d":"2011-01-24","v":0.7822},{"d":"2011-02-14","v":0.794},{"d":"2011-03-07","v":0.80},
      {"d":"2011-03-21","v":0.8002},{"d":"2011-04-11","v":0.8044},{"d":"2011-05-09","v":0.8014},{"d":"2011-05-30","v":0.80},
      {"d":"2011-06-20","v":0.7933},{"d":"2011-07-04","v":0.7881},{"d":"2011-07-25","v":0.7844},{"d":"2011-08-08","v":0.7763},
      {"d":"2011-08-29","v":0.7645},{"d":"2011-09-19","v":0.7571},{"d":"2011-10-03","v":0.7467},{"d":"2011-10-17","v":0.7331},
      {"d":"2011-10-31","v":0.7379},{"d":"2011-11-21","v":0.7386},{"d":"2011-11-28","v":0.7386},{"d":"2011-12-26","v":0.7497},
      {"d":"2012-01-16","v":0.7556},{"d":"2012-02-13","v":0.7608},{"d":"2012-03-05","v":0.763},{"d":"2012-04-02","v":0.7652},
      {"d":"2012-04-30","v":0.766},{"d":"2012-05-21","v":0.763},{"d":"2012-06-18","v":0.7571},{"d":"2012-07-09","v":0.7563},
      {"d":"2012-07-23","v":0.7526},{"d":"2012-08-13","v":0.7549},{"d":"2012-09-03","v":0.7568},{"d":"2012-09-24","v":0.7586},
      {"d":"2012-10-08","v":0.7608},{"d":"2012-10-29","v":0.7586},{"d":"2012-11-19","v":0.7556},{"d":"2012-12-03","v":0.7544},
      {"d":"2012-12-10","v":0.7546}
    ],
    "a5ma": [
      {"d":"2010-10-18","v":2.885},{"d":"2010-11-01","v":3.14},{"d":"2010-11-15","v":3.15},{"d":"2010-12-06","v":2.955},
      {"d":"2010-12-20","v":3.10},{"d":"2011-01-10","v":3.24},{"d":"2011-01-24","v":3.26},{"d":"2011-02-07","v":3.24},
      {"d":"2011-02-21","v":3.28},{"d":"2011-03-07","v":3.10},{"d":"2011-03-21","v":2.72},{"d":"2011-04-11","v":2.84},
      {"d":"2011-04-25","v":2.72},{"d":"2011-05-09","v":2.86},{"d":"2011-05-23","v":2.815},{"d":"2011-06-06","v":2.49},
      {"d":"2011-06-27","v":1.80},{"d":"2011-07-11","v":2.016},{"d":"2011-07-25","v":2.06},{"d":"2011-08-08","v":1.64},
      {"d":"2011-08-29","v":1.076},{"d":"2011-09-12","v":0.99},{"d":"2011-10-03","v":1.03},{"d":"2011-10-17","v":1.59},
      {"d":"2011-11-07","v":2.157},{"d":"2011-11-21","v":2.46},{"d":"2011-11-28","v":2.30},{"d":"2011-12-12","v":2.44},
      {"d":"2011-12-26","v":2.27},{"d":"2012-01-09","v":2.49},{"d":"2012-01-30","v":2.72},{"d":"2012-02-20","v":2.955},
      {"d":"2012-03-05","v":3.0},{"d":"2012-03-12","v":3.0},{"d":"2012-04-02","v":2.98},{"d":"2012-04-16","v":2.67},
      {"d":"2012-04-30","v":2.44},{"d":"2012-05-21","v":1.92},{"d":"2012-06-11","v":1.45},{"d":"2012-06-25","v":1.50},
      {"d":"2012-07-09","v":1.69},{"d":"2012-07-23","v":1.875},{"d":"2012-08-13","v":2.157},{"d":"2012-09-03","v":2.415},
      {"d":"2012-09-24","v":2.77},{"d":"2012-10-08","v":2.72},{"d":"2012-10-29","v":2.49},{"d":"2012-11-12","v":2.11},
      {"d":"2012-11-26","v":1.97},{"d":"2012-12-10","v":2.086}
    ],
    "a2ma": [
      {"d":"2010-10-18","r1":2.68,"r2":2.56,"b":2.44},{"d":"2010-11-01","r1":2.86,"r2":2.77,"b":2.66},
      {"d":"2010-11-15","r1":3.03,"r2":2.93,"b":2.77},{"d":"2010-11-29","r1":3.03,"r2":2.93,"b":2.84},
      {"d":"2010-12-13","r1":3.23,"r2":3.12,"b":2.96},{"d":"2011-01-03","r1":3.51,"r2":3.39,"b":3.23},
      {"d":"2011-01-17","r1":3.69,"r2":3.60,"b":3.49},{"d":"2011-02-07","r1":3.88,"r2":3.79,"b":3.65},
      {"d":"2011-02-28","r1":3.90,"r2":3.82,"b":3.73},{"d":"2011-03-14","r1":3.86,"r2":3.79,"b":3.73},
      {"d":"2011-03-21","r1":3.81,"r2":3.72,"b":3.75},{"d":"2011-04-11","r1":3.86,"r2":3.75,"b":3.73},
      {"d":"2011-05-02","r1":3.88,"r2":3.79,"b":3.76},{"d":"2011-05-16","r1":3.84,"r2":3.75,"b":3.75},
      {"d":"2011-05-30","r1":3.69,"r2":3.65,"b":3.72},{"d":"2011-06-06","r1":3.42,"r2":3.37,"b":3.56},
      {"d":"2011-06-27","r1":3.16,"r2":3.09,"b":3.28},{"d":"2011-07-11","r1":3.12,"r2":3.05,"b":3.14},
      {"d":"2011-07-25","r1":3.0,"r2":2.96,"b":3.0},{"d":"2011-08-01","r1":2.63,"r2":2.68,"b":2.86},
      {"d":"2011-08-08","r1":1.99,"r2":2.08,"b":2.45},{"d":"2011-08-22","r1":1.43,"r2":1.48,"b":1.94},
      {"d":"2011-09-05","r1":1.20,"r2":1.25,"b":1.62},{"d":"2011-09-26","r1":1.11,"r2":1.16,"b":1.43},
      {"d":"2011-10-10","r1":0.925,"r2":0.97,"b":1.25},{"d":"2011-10-17","r1":1.11,"r2":1.06,"b":1.20},
      {"d":"2011-10-31","r1":1.34,"r2":1.29,"b":1.25},{"d":"2011-11-14","r1":1.57,"r2":1.48,"b":1.39},
      {"d":"2011-11-28","r1":1.43,"r2":1.39,"b":1.39},{"d":"2011-12-12","r1":1.52,"r2":1.48,"b":1.46},
      {"d":"2011-12-26","r1":1.62,"r2":1.52,"b":1.48},{"d":"2012-01-02","r1":1.89,"r2":1.76,"b":1.62},
      {"d":"2012-01-23","r1":2.36,"r2":2.22,"b":1.99},{"d":"2012-02-13","r1":2.77,"r2":2.63,"b":2.40},
      {"d":"2012-03-05","r1":3.05,"r2":2.96,"b":2.77},{"d":"2012-03-19","r1":3.33,"r2":3.23,"b":3.0},
      {"d":"2012-04-09","r1":3.28,"r2":3.19,"b":3.05},{"d":"2012-04-30","r1":3.19,"r2":3.09,"b":3.06},
      {"d":"2012-05-21","r1":2.86,"r2":2.77,"b":2.96},{"d":"2012-06-04","r1":2.40,"r2":2.31,"b":2.59},
      {"d":"2012-06-25","r1":2.22,"r2":2.15,"b":2.38},{"d":"2012-07-16","r1":2.24,"r2":2.17,"b":2.33},
      {"d":"2012-07-30","r1":2.26,"r2":2.19,"b":2.29},{"d":"2012-08-13","r1":2.45,"r2":2.36,"b":2.40},
      {"d":"2012-09-03","r1":2.63,"r2":2.54,"b":2.52},{"d":"2012-09-24","r1":2.86,"r2":2.77,"b":2.68},
      {"d":"2012-10-08","r1":2.82,"r2":2.72,"b":2.70},{"d":"2012-10-29","r1":2.63,"r2":2.56,"b":2.63},
      {"d":"2012-11-12","r1":2.40,"r2":2.29,"b":2.47},{"d":"2012-11-26","r1":2.38,"r2":2.29,"b":2.45},
      {"d":"2012-12-10","r1":2.47,"r2":2.38,"b":2.46}
    ]
  },
  "vconcat": [
    {
      "spacing": 0,
      "hconcat": [
        {"width": 66, "height": 1, "view": {"stroke": null}, "data": {"values": []}, "mark": "point", "encoding": {},
         "title": {"text": "SPY:$UST", "subtitle": "11-Dec-2012", "anchor": "start", "frame": "group", "offset": 1, "dx": 0, "font": "Liberation Sans", "fontSize": 12.5, "fontWeight": "bold", "color": "#111111", "subtitleFont": "DejaVu Sans", "subtitleFontSize": 10, "subtitleColor": "#222222", "subtitlePadding": 2}},
        {"width": 534, "height": 1, "view": {"stroke": null}, "data": {"values": []}, "mark": "point", "encoding": {},
         "title": {"text": "S&P 500 SPDRs/10-Year US Treasury Note Price (EOD)  NYSE/INDX", "subtitle": " ", "anchor": "start", "frame": "group", "offset": 1, "dx": 0, "font": "Liberation Sans", "fontSize": 11, "fontWeight": "normal", "color": "#111111", "subtitleFontSize": 10, "subtitlePadding": 3}},
        {"width": 590, "height": 1, "view": {"stroke": null}, "data": {"values": []}, "mark": "point", "encoding": {},
         "title": {"text": "© StockCharts.com", "subtitle": "Open 1.07  High 1.08  Low 1.07  Close 1.07  Chg +0.01 (+0.83%) ▲", "anchor": "end", "frame": "group", "offset": 1, "dx": 0, "font": "DejaVu Sans", "fontSize": 10, "fontWeight": "normal", "color": "#555555", "subtitleFont": "DejaVu Sans", "subtitleFontSize": 10, "subtitleColor": "#111111", "subtitlePadding": 3}}
      ]
    },
    {
      "width": 1190, "height": 211,
      "title": "SPY (Daily)",
      "resolve": {"axis": {"x": "independent", "y": "independent"}},
      "layer": [
        {"data": {"name": "w"}, "mark": {"type": "rule", "strokeWidth": 6},
         "encoding": {
           "x": {"field": "d", "type": "temporal", "scale": {"domain": [{"year": 2010, "month": 10, "date": 16}, {"year": 2013, "month": 5, "date": 20}], "nice": false}, "axis": null},
           "y": {"field": "lo", "type": "quantitative", "scale": {"domain": [103.9, 148.4], "nice": false}, "title": null, "axis": {"orient": "right", "labelOverlap": false, "values": [105, 110, 115, 120, 125, 130, 135, 140, 145]}},
           "y2": {"field": "hi"},
           "color": {"field": "c", "type": "nominal", "scale": {"domain": ["g", "r", "b"], "range": ["#2da82d", "#f22e2e", "#3a3af2"]}, "legend": null}}},
        {"data": {"name": "spyma"}, "mark": {"type": "line", "color": "#1f1f8f", "strokeWidth": 1.3},
         "encoding": {
           "x": {"field": "d", "type": "temporal", "scale": {"domain": [{"year": 2010, "month": 10, "date": 16}, {"year": 2013, "month": 5, "date": 20}], "nice": false}, "axis": null},
           "y": {"field": "v", "type": "quantitative", "scale": {"domain": [103.9, 148.4], "nice": false}, "axis": null}}},
        {"data": {"values": [{"d": "2013-01-04", "v": 137.9, "t": "SPY"}]}, "mark": {"type": "text", "align": "left", "baseline": "middle", "font": "Liberation Sans", "fontSize": 16, "fontWeight": "bold", "color": "#9b45e4"},
         "encoding": {
           "x": {"field": "d", "type": "temporal", "scale": {"domain": [{"year": 2010, "month": 10, "date": 16}, {"year": 2013, "month": 5, "date": 20}], "nice": false}, "axis": null},
           "y": {"field": "v", "type": "quantitative", "scale": {"domain": [103.9, 148.4], "nice": false}, "axis": null},
           "text": {"field": "t"}}}
      ]
    },
    {
      "width": 1190, "height": 305,
      "title": "SPY:$UST (Daily)",
      "resolve": {"axis": {"x": "independent", "y": "independent"}},
      "layer": [
        {"data": {"name": "bb"}, "mark": {"type": "line", "color": "#f7b58a", "strokeWidth": 1, "clip": true},
         "encoding": {
           "x": {"field": "d", "type": "temporal", "scale": {"domain": [{"year": 2010, "month": 10, "date": 16}, {"year": 2013, "month": 5, "date": 20}], "nice": false}, "title": null,
                 "axis": {"orient": "bottom", "tickCount": {"interval": "month", "step": 1}, "labelExpr": "month(datum.value) == 0 ? timeFormat(datum.value, '%Y') : timeFormat(datum.value, '%b')", "labelFontWeight": {"condition": {"test": "month(datum.value) == 0", "value": "bold"}, "value": "normal"}, "labelFontSize": 10, "tickSize": 3, "labelPadding": 2, "labelOverlap": false, "minExtent": 15, "maxExtent": 15}},
           "y": {"field": "u", "type": "quantitative", "scale": {"domain": [0.817, 1.122], "nice": false}, "title": null, "axis": {"orient": "right", "labelOverlap": false, "values": [0.84, 0.86, 0.88, 0.90, 0.92, 0.94, 0.96, 0.98, 1.00, 1.02, 1.04, 1.06, 1.08, 1.10], "format": ".2f"}}}},
        {"data": {"name": "bb"}, "mark": {"type": "line", "color": "#f7b58a", "strokeWidth": 1, "clip": true},
         "encoding": {
           "x": {"field": "d", "type": "temporal", "scale": {"domain": [{"year": 2010, "month": 10, "date": 16}, {"year": 2013, "month": 5, "date": 20}], "nice": false}, "axis": null},
           "y": {"field": "l", "type": "quantitative", "scale": {"domain": [0.817, 1.122], "nice": false}, "axis": null}}},
        {"data": {"name": "rma"}, "mark": {"type": "line", "color": "#9b3cf0", "strokeWidth": 2.6, "strokeDash": [3, 2], "clip": true},
         "encoding": {
           "x": {"field": "d", "type": "temporal", "scale": {"domain": [{"year": 2010, "month": 10, "date": 16}, {"year": 2013, "month": 5, "date": 20}], "nice": false}, "axis": null},
           "y": {"field": "v", "type": "quantitative", "scale": {"domain": [0.817, 1.122], "nice": false}, "axis": null}}},
        {"data": {"name": "w"}, "mark": {"type": "line", "color": "#2e1a12", "strokeWidth": 1.4, "clip": true},
         "encoding": {
           "x": {"field": "d", "type": "temporal", "scale": {"domain": [{"year": 2010, "month": 10, "date": 16}, {"year": 2013, "month": 5, "date": 20}], "nice": false}, "axis": null},
           "y": {"field": "r", "type": "quantitative", "scale": {"domain": [0.817, 1.122], "nice": false}, "axis": null}}},
        {"data": {"values": [
            {"d": "2011-03-25", "v": 1.068, "t": "g"}, {"d": "2011-07-02", "v": 1.049, "t": "g"}, {"d": "2011-10-07", "v": 0.905, "t": "g"},
            {"d": "2011-12-05", "v": 0.945, "t": "g"}, {"d": "2011-12-24", "v": 0.943, "t": "g"}, {"d": "2012-06-28", "v": 1.01, "t": "g"},
            {"d": "2012-12-10", "v": 1.069, "t": "g"},
            {"d": "2011-03-08", "v": 1.046, "t": "p"}, {"d": "2011-05-14", "v": 1.063, "t": "p"}, {"d": "2011-07-31", "v": 1.025, "t": "p"},
            {"d": "2011-11-21", "v": 0.922, "t": "p"}, {"d": "2011-12-21", "v": 0.92, "t": "p"}, {"d": "2012-04-16", "v": 1.041, "t": "p"},
            {"d": "2012-10-30", "v": 1.074, "t": "p"}]},
         "mark": {"type": "point", "filled": true, "size": 850, "opacity": 0.72, "clip": true},
         "encoding": {
           "x": {"field": "d", "type": "temporal", "scale": {"domain": [{"year": 2010, "month": 10, "date": 16}, {"year": 2013, "month": 5, "date": 20}], "nice": false}, "axis": null},
           "y": {"field": "v", "type": "quantitative", "scale": {"domain": [0.817, 1.122], "nice": false}, "axis": null},
           "color": {"field": "t", "type": "nominal", "scale": {"domain": ["g", "p"], "range": ["#5fe05f", "#f28a8a"]}, "legend": null}}},
        {"data": {"values": [
            {"d": "2012-03-18", "v": 1.10, "g": "a"}, {"d": "2012-04-11", "v": 1.0877, "g": "a"},
            {"d": "2012-09-14", "v": 1.116, "g": "b"}, {"d": "2012-10-23", "v": 1.109, "g": "b"}]},
         "mark": {"type": "line", "color": "#ee2222", "strokeWidth": 2.2, "strokeDash": [2, 2]},
         "encoding": {
           "x": {"field": "d", "type": "temporal", "scale": {"domain": [{"year": 2010, "month": 10, "date": 16}, {"year": 2013, "month": 5, "date": 20}], "nice": false}, "axis": null},
           "y": {"field": "v", "type": "quantitative", "scale": {"domain": [0.817, 1.122], "nice": false}, "axis": null},
           "detail": {"field": "g"}}},
        {"data": {"values": [
            {"d": "2011-10-14", "v": 0.893, "g": "a"}, {"d": "2011-12-16", "v": 0.937, "g": "a"},
            {"d": "2012-07-04", "v": 0.996, "g": "b"}, {"d": "2012-07-26", "v": 1.031, "g": "b"}]},
         "mark": {"type": "line", "color": "#22aa22", "strokeWidth": 1.6, "strokeDash": [2, 2]},
         "encoding": {
           "x": {"field": "d", "type": "temporal", "scale": {"domain": [{"year": 2010, "month": 10, "date": 16}, {"year": 2013, "month": 5, "date": 20}], "nice": false}, "axis": null},
           "y": {"field": "v", "type": "quantitative", "scale": {"domain": [0.817, 1.122], "nice": false}, "axis": null},
           "detail": {"field": "g"}}},
        {"data": {"values": [{"d": "2011-04-18", "v": 1.034}, {"d": "2012-07-24", "v": 0.974}]},
         "mark": {"type": "point", "shape": "M0,-1L0.75,-0.15L0.3,-0.15L0.3,1L-0.3,1L-0.3,-0.15L-0.75,-0.15Z", "filled": true, "size": 300, "color": "#1717a5", "opacity": 1},
         "encoding": {
           "x": {"field": "d", "type": "temporal", "scale": {"domain": [{"year": 2010, "month": 10, "date": 16}, {"year": 2013, "month": 5, "date": 20}], "nice": false}, "axis": null},
           "y": {"field": "v", "type": "quantitative", "scale": {"domain": [0.817, 1.122], "nice": false}, "axis": null}}},
        {"data": {"values": [{"d": "2011-09-17", "v": 0.937}]},
         "mark": {"type": "point", "shape": "M0,1L0.75,0.15L0.3,0.15L0.3,-1L-0.3,-1L-0.3,0.15L-0.75,0.15Z", "filled": true, "size": 300, "color": "#1717a5", "opacity": 1},
         "encoding": {
           "x": {"field": "d", "type": "temporal", "scale": {"domain": [{"year": 2010, "month": 10, "date": 16}, {"year": 2013, "month": 5, "date": 20}], "nice": false}, "axis": null},
           "y": {"field": "v", "type": "quantitative", "scale": {"domain": [0.817, 1.122], "nice": false}, "axis": null}}},
        {"data": {"values": [
            {"d": "2012-12-22", "v": 1.0445, "t": "STOCK BOND RATIO"},
            {"d": "2012-12-22", "v": 1.0265, "t": "Standard \"trend follower\" ratio"},
            {"d": "2012-12-22", "v": 1.0085, "t": "When ratio is up = buy stocks"},
            {"d": "2012-12-22", "v": 0.9905, "t": "When down = buy bonds"},
            {"d": "2012-12-22", "v": 0.9725, "t": "and/or short stock"}]},
         "mark": {"type": "text", "align": "left", "baseline": "middle", "font": "Liberation Sans", "fontSize": 12.5, "fontWeight": "bold", "color": "#111111"},
         "encoding": {
           "x": {"field": "d", "type": "temporal", "scale": {"domain": [{"year": 2010, "month": 10, "date": 16}, {"year": 2013, "month": 5, "date": 20}], "nice": false}, "axis": null},
           "y": {"field": "v", "type": "quantitative", "scale": {"domain": [0.817, 1.122], "nice": false}, "axis": null},
           "text": {"field": "t"}}}
      ]
    },
    {
      "width": 1190, "height": 210,
      "resolve": {"axis": {"x": "independent", "y": "independent"}},
      "layer": [
        {"data": {"values": [{"v": 10}, {"v": -10}]}, "mark": {"type": "rule", "color": "#f00000", "strokeWidth": 1.3},
         "encoding": {
           "y": {"field": "v", "type": "quantitative", "scale": {"domain": [-17, 17.4], "nice": false}, "title": null, "axis": {"orient": "right", "labelOverlap": false, "values": [-15, -12.5, -10, -7.5, -5, -2.5, 0, 2.5, 5, 7.5, 10, 12.5, 15], "format": ".1f"}}}},
        {"data": {"name": "w"}, "mark": {"type": "line", "color": "#e2876c", "strokeWidth": 1.1, "clip": true},
         "encoding": {
           "x": {"field": "d", "type": "temporal", "scale": {"domain": [{"year": 2010, "month": 10, "date": 16}, {"year": 2013, "month": 5, "date": 20}], "nice": false}, "axis": null},
           "y": {"field": "m2", "type": "quantitative", "scale": {"domain": [-17, 17.4], "nice": false}, "axis": null}}},
        {"data": {"name": "w"}, "mark": {"type": "line", "color": "#8a4535", "strokeWidth": 1.4, "clip": true},
         "encoding": {
           "x": {"field": "d", "type": "temporal", "scale": {"domain": [{"year": 2010, "month": 10, "date": 16}, {"year": 2013, "month": 5, "date": 20}], "nice": false}, "axis": null},
           "y": {"field": "m1", "type": "quantitative", "scale": {"domain": [-17, 17.4], "nice": false}, "axis": null}}},
        {"data": {"values": [{"d": "2011-03-10", "v": 9.86}, {"d": "2011-04-15", "v": 9.7}, {"d": "2012-04-01", "v": 9.27}, {"d": "2012-09-20", "v": 9.8}]},
         "mark": {"type": "point", "filled": false, "size": 800, "color": "#e81515", "strokeWidth": 2, "opacity": 1},
         "encoding": {
           "x": {"field": "d", "type": "temporal", "scale": {"domain": [{"year": 2010, "month": 10, "date": 16}, {"year": 2013, "month": 5, "date": 20}], "nice": false}, "axis": null},
           "y": {"field": "v", "type": "quantitative", "scale": {"domain": [-17, 17.4], "nice": false}, "axis": null}}},
        {"data": {"values": [{"d": "2011-08-31", "v": -9.3}]},
         "mark": {"type": "point", "shape": "M-1,0C-1,-0.193,-0.552,-0.35,0,-0.35C0.552,-0.35,1,-0.193,1,0C1,0.193,0.552,0.35,0,0.35C-0.552,0.35,-1,0.193,-1,0Z", "filled": false, "size": 11025, "color": "#22bb22", "strokeWidth": 2, "opacity": 1},
         "encoding": {
           "x": {"field": "d", "type": "temporal", "scale": {"domain": [{"year": 2010, "month": 10, "date": 16}, {"year": 2013, "month": 5, "date": 20}], "nice": false}, "axis": null},
           "y": {"field": "v", "type": "quantitative", "scale": {"domain": [-17, 17.4], "nice": false}, "axis": null}}}
      ]
    },
    {
      "width": 1190, "height": 272,
      "title": "HYG:$UST (Daily)",
      "resolve": {"axis": {"x": "independent", "y": "independent"}},
      "layer": [
        {"data": {"name": "w"}, "mark": {"type": "line", "color": "#a4572e", "strokeWidth": 1.3, "clip": true},
         "encoding": {
           "x": {"field": "d", "type": "temporal", "scale": {"domain": [{"year": 2010, "month": 10, "date": 16}, {"year": 2013, "month": 5, "date": 20}], "nice": false}, "axis": null},
           "y": {"field": "hy", "type": "quantitative", "scale": {"domain": [0.571, 0.706], "nice": false}, "title": null, "axis": {"orient": "right", "labelOverlap": false, "values": [0.58, 0.59, 0.60, 0.61, 0.62, 0.63, 0.64, 0.65, 0.66, 0.67, 0.68, 0.69, 0.70], "format": ".3f"}}}},
        {"data": {"name": "hyma"}, "mark": {"type": "line", "color": "#1f1f99", "strokeWidth": 1.3, "clip": true},
         "encoding": {
           "x": {"field": "d", "type": "temporal", "scale": {"domain": [{"year": 2010, "month": 10, "date": 16}, {"year": 2013, "month": 5, "date": 20}], "nice": false}, "axis": null},
           "y": {"field": "v", "type": "quantitative", "scale": {"domain": [0.571, 0.706], "nice": false}, "axis": null}}},
        {"data": {"values": [{"d": "2012-09-14", "v": 0.7053}, {"d": "2012-10-28", "v": 0.7038}]},
         "mark": {"type": "line", "color": "#ee2222", "strokeWidth": 2.2, "strokeDash": [2, 2]},
         "encoding": {
           "x": {"field": "d", "type": "temporal", "scale": {"domain": [{"year": 2010, "month": 10, "date": 16}, {"year": 2013, "month": 5, "date": 20}], "nice": false}, "axis": null},
           "y": {"field": "v", "type": "quantitative", "scale": {"domain": [0.571, 0.706], "nice": false}, "axis": null}}},
        {"data": {"values": [{"d": "2012-06-22", "v": 0.6618}, {"d": "2012-11-29", "v": 0.695}]},
         "mark": {"type": "point", "filled": false, "size": 1450, "color": "#20c020", "strokeWidth": 2, "opacity": 1},
         "encoding": {
           "x": {"field": "d", "type": "temporal", "scale": {"domain": [{"year": 2010, "month": 10, "date": 16}, {"year": 2013, "month": 5, "date": 20}], "nice": false}, "axis": null},
           "y": {"field": "v", "type": "quantitative", "scale": {"domain": [0.571, 0.706], "nice": false}, "axis": null}}},
        {"data": {"values": [{"d": "2012-11-09", "v": 0.683}]},
         "mark": {"type": "point", "filled": false, "size": 1000, "color": "#e81515", "strokeWidth": 2, "opacity": 1},
         "encoding": {
           "x": {"field": "d", "type": "temporal", "scale": {"domain": [{"year": 2010, "month": 10, "date": 16}, {"year": 2013, "month": 5, "date": 20}], "nice": false}, "axis": null},
           "y": {"field": "v", "type": "quantitative", "scale": {"domain": [0.571, 0.706], "nice": false}, "axis": null}}},
        {"data": {"values": [{"d": "2013-01-01", "v": 0.6892, "t": "JUNK to TREASURYS"}, {"d": "2013-01-01", "v": 0.6796, "t": "when ratio is up, risk is on"}]},
         "mark": {"type": "text", "align": "left", "baseline": "middle", "font": "Liberation Sans", "fontSize": 12.5, "fontWeight": "bold", "color": "#8b3a12"},
         "encoding": {
           "x": {"field": "d", "type": "temporal", "scale": {"domain": [{"year": 2010, "month": 10, "date": 16}, {"year": 2013, "month": 5, "date": 20}], "nice": false}, "axis": null},
           "y": {"field": "v", "type": "quantitative", "scale": {"domain": [0.571, 0.706], "nice": false}, "axis": null},
           "text": {"field": "t"}}}
      ]
    },
    {
      "width": 1190, "height": 273,
      "title": "HYG:LQD (Daily)",
      "resolve": {"axis": {"x": "independent", "y": "independent"}},
      "layer": [
        {"data": {"values": [{"d": "2011-02-07", "v": 0.8177}, {"d": "2013-01-26", "v": 0.7701}]},
         "mark": {"type": "line", "color": "#c6c6c6", "strokeWidth": 1.5, "clip": true},
         "encoding": {
           "x": {"field": "d", "type": "temporal", "scale": {"domain": [{"year": 2010, "month": 10, "date": 16}, {"year": 2013, "month": 5, "date": 20}], "nice": false}, "axis": null},
           "y": {"field": "v", "type": "quantitative", "scale": {"domain": [0.698, 0.818], "nice": false}, "title": null, "axis": {"orient": "right", "labelOverlap": false, "values": [0.70, 0.71, 0.72, 0.73, 0.74, 0.75, 0.76, 0.77, 0.78, 0.79, 0.80, 0.81], "format": ".3f"}}}},
        {"data": {"name": "w"}, "mark": {"type": "line", "color": "#1d6b12", "strokeWidth": 1.3, "clip": true},
         "encoding": {
           "x": {"field": "d", "type": "temporal", "scale": {"domain": [{"year": 2010, "month": 10, "date": 16}, {"year": 2013, "month": 5, "date": 20}], "nice": false}, "axis": null},
           "y": {"field": "hl", "type": "quantitative", "scale": {"domain": [0.698, 0.818], "nice": false}, "axis": null}}},
        {"data": {"name": "hlma"}, "mark": {"type": "line", "color": "#1f1f99", "strokeWidth": 1.3, "clip": true},
         "encoding": {
           "x": {"field": "d", "type": "temporal", "scale": {"domain": [{"year": 2010, "month": 10, "date": 16}, {"year": 2013, "month": 5, "date": 20}], "nice": false}, "axis": null},
           "y": {"field": "v", "type": "quantitative", "scale": {"domain": [0.698, 0.818], "nice": false}, "axis": null}}},
        {"data": {"values": [{"d": "2012-10-01", "v": 0.7534}]},
         "mark": {"type": "point", "shape": "M0,-1C0.359,-1,0.65,-0.552,0.65,0C0.65,0.552,0.359,1,0,1C-0.359,1,-0.65,0.552,-0.65,0C-0.65,-0.552,-0.359,-1,0,-1Z", "filled": false, "size": 1849, "color": "#e81515", "strokeWidth": 2, "opacity": 1},
         "encoding": {
           "x": {"field": "d", "type": "temporal", "scale": {"domain": [{"year": 2010, "month": 10, "date": 16}, {"year": 2013, "month": 5, "date": 20}], "nice": false}, "axis": null},
           "y": {"field": "v", "type": "quantitative", "scale": {"domain": [0.698, 0.818], "nice": false}, "axis": null}}},
        {"data": {"values": [{"d": "2012-12-02", "v": 0.763}]},
         "mark": {"type": "point", "filled": false, "size": 1600, "color": "#20c020", "strokeWidth": 2, "opacity": 1},
         "encoding": {
           "x": {"field": "d", "type": "temporal", "scale": {"domain": [{"year": 2010, "month": 10, "date": 16}, {"year": 2013, "month": 5, "date": 20}], "nice": false}, "axis": null},
           "y": {"field": "v", "type": "quantitative", "scale": {"domain": [0.698, 0.818], "nice": false}, "axis": null}}},
        {"data": {"values": [{"d": "2012-10-22", "v": 0.8033, "t": "JUNK to INVESTMENT-GRADE CORPORATES"}, {"d": "2012-10-22", "v": 0.7960, "t": "when ratio is up, investors prefer risk"}]},
         "mark": {"type": "text", "align": "left", "baseline": "middle", "font": "Liberation Sans", "fontSize": 11.2, "fontWeight": "bold", "color": "#2a8a1c"},
         "encoding": {
           "x": {"field": "d", "type": "temporal", "scale": {"domain": [{"year": 2010, "month": 10, "date": 16}, {"year": 2013, "month": 5, "date": 20}], "nice": false}, "axis": null},
           "y": {"field": "v", "type": "quantitative", "scale": {"domain": [0.698, 0.818], "nice": false}, "axis": null},
           "text": {"field": "t"}}}
      ]
    },
    {
      "width": 1190, "height": 273,
      "title": "$SPXA50:$UST (Daily)",
      "resolve": {"axis": {"x": "independent", "y": "independent"}},
      "layer": [
        {"data": {"values": [{"d": "2011-11-18", "v": 3.707, "g": "u"}, {"d": "2013-02-02", "v": 3.143, "g": "u"}, {"d": "2011-08-06", "v": -0.004, "g": "l"}, {"d": "2013-01-30", "v": 0.865, "g": "l"}]},
         "mark": {"type": "line", "color": "#c6c6c6", "strokeWidth": 1.5, "clip": true},
         "encoding": {
           "x": {"field": "d", "type": "temporal", "scale": {"domain": [{"year": 2010, "month": 10, "date": 16}, {"year": 2013, "month": 5, "date": 20}], "nice": false}, "axis": null},
           "y": {"field": "v", "type": "quantitative", "scale": {"domain": [-0.07, 3.75], "nice": false}, "title": null, "axis": {"orient": "right", "labelOverlap": false, "labelFlush": true, "values": [0, 0.25, 0.5, 0.75, 1, 1.25, 1.5, 1.75, 2, 2.25, 2.5, 2.75, 3, 3.25, 3.5, 3.75], "format": ".2f"}},
           "detail": {"field": "g"}}},
        {"data": {"name": "w"}, "mark": {"type": "line", "color": "#1d6b12", "strokeWidth": 1.3, "clip": true},
         "encoding": {
           "x": {"field": "d", "type": "temporal", "scale": {"domain": [{"year": 2010, "month": 10, "date": 16}, {"year": 2013, "month": 5, "date": 20}], "nice": false}, "axis": null},
           "y": {"field": "a5", "type": "quantitative", "scale": {"domain": [-0.07, 3.75], "nice": false}, "axis": null}}},
        {"data": {"name": "a5ma"}, "mark": {"type": "line", "color": "#1f1f99", "strokeWidth": 1.3, "clip": true},
         "encoding": {
           "x": {"field": "d", "type": "temporal", "scale": {"domain": [{"year": 2010, "month": 10, "date": 16}, {"year": 2013, "month": 5, "date": 20}], "nice": false}, "axis": null},
           "y": {"field": "v", "type": "quantitative", "scale": {"domain": [-0.07, 3.75], "nice": false}, "axis": null}}},
        {"data": {"values": [{"d": "2012-06-20", "v": 1.71, "t": "g"}, {"d": "2012-11-29", "v": 2.18, "t": "g"}, {"d": "2012-10-04", "v": 2.51, "t": "p"}]},
         "mark": {"type": "point", "filled": true, "size": 850, "opacity": 0.72, "clip": true},
         "encoding": {
           "x": {"field": "d", "type": "temporal", "scale": {"domain": [{"year": 2010, "month": 10, "date": 16}, {"year": 2013, "month": 5, "date": 20}], "nice": false}, "axis": null},
           "y": {"field": "v", "type": "quantitative", "scale": {"domain": [-0.07, 3.75], "nice": false}, "axis": null},
           "color": {"field": "t", "type": "nominal", "scale": {"domain": ["g", "p"], "range": ["#5fe05f", "#f28a8a"]}, "legend": null}}},
        {"data": {"values": [
            {"d": "2013-01-08", "v": 2.565, "t": "$SPXA50:$UST"},
            {"d": "2013-01-08", "v": 2.31, "t": "When this ratio is up,"},
            {"d": "2013-01-08", "v": 2.072, "t": "equities are favored over"},
            {"d": "2013-01-08", "v": 1.837, "t": "treasurys, for the short term"}]},
         "mark": {"type": "text", "align": "left", "baseline": "middle", "font": "Liberation Sans", "fontSize": 12, "fontWeight": "bold", "color": "#111111"},
         "encoding": {
           "x": {"field": "d", "type": "temporal", "scale": {"domain": [{"year": 2010, "month": 10, "date": 16}, {"year": 2013, "month": 5, "date": 20}], "nice": false}, "axis": null},
           "y": {"field": "v", "type": "quantitative", "scale": {"domain": [-0.07, 3.75], "nice": false}, "axis": null},
           "text": {"field": "t"}}}
      ]
    },
    {
      "width": 1190, "height": 271,
      "title": "$SPXA200:$UST (Daily)",
      "resolve": {"axis": {"x": "independent", "y": "independent"}},
      "layer": [
        {"data": {"values": [{"d": "2011-04-06", "v": 3.925, "g": "u"}, {"d": "2012-12-16", "v": 3.085, "g": "u"}, {"d": "2011-08-06", "v": 0.315, "g": "l"}, {"d": "2013-01-04", "v": 2.148, "g": "l"}]},
         "mark": {"type": "line", "color": "#c6c6c6", "strokeWidth": 1.5, "clip": true},
         "encoding": {
           "x": {"field": "d", "type": "temporal", "scale": {"domain": [{"year": 2010, "month": 10, "date": 16}, {"year": 2013, "month": 5, "date": 20}], "nice": false}, "title": null,
                 "axis": {"orient": "bottom", "tickCount": {"interval": "month", "step": 1}, "labelExpr": "month(datum.value) == 0 ? timeFormat(datum.value, '%Y') : timeFormat(datum.value, '%b')", "labelFontWeight": {"condition": {"test": "month(datum.value) == 0", "value": "bold"}, "value": "normal"}, "labelFontSize": 10, "tickSize": 3, "labelPadding": 2, "labelOverlap": false, "minExtent": 15, "maxExtent": 15}},
           "y": {"field": "v", "type": "quantitative", "scale": {"domain": [0.24, 3.93], "nice": false}, "title": null, "axis": {"orient": "right", "labelOverlap": false, "values": [0.5, 0.75, 1, 1.25, 1.5, 1.75, 2, 2.25, 2.5, 2.75, 3, 3.25, 3.5, 3.75], "format": ".2f"}},
           "detail": {"field": "g"}}},
        {"data": {"name": "w"}, "mark": {"type": "line", "color": "#1d6b12", "strokeWidth": 1.3, "clip": true},
         "encoding": {
           "x": {"field": "d", "type": "temporal", "scale": {"domain": [{"year": 2010, "month": 10, "date": 16}, {"year": 2013, "month": 5, "date": 20}], "nice": false}, "axis": null},
           "y": {"field": "a2", "type": "quantitative", "scale": {"domain": [0.24, 3.93], "nice": false}, "axis": null}}},
        {"data": {"name": "a2ma"}, "mark": {"type": "line", "color": "#f01010", "strokeWidth": 1.5, "clip": true},
         "encoding": {
           "x": {"field": "d", "type": "temporal", "scale": {"domain": [{"year": 2010, "month": 10, "date": 16}, {"year": 2013, "month": 5, "date": 20}], "nice": false}, "axis": null},
           "y": {"field": "r1", "type": "quantitative", "scale": {"domain": [0.24, 3.93], "nice": false}, "axis": null}}},
        {"data": {"name": "a2ma"}, "mark": {"type": "line", "color": "#f01010", "strokeWidth": 1.5, "clip": true},
         "encoding": {
           "x": {"field": "d", "type": "temporal", "scale": {"domain": [{"year": 2010, "month": 10, "date": 16}, {"year": 2013, "month": 5, "date": 20}], "nice": false}, "axis": null},
           "y": {"field": "r2", "type": "quantitative", "scale": {"domain": [0.24, 3.93], "nice": false}, "axis": null}}},
        {"data": {"name": "a2ma"}, "mark": {"type": "line", "color": "#1f1f99", "strokeWidth": 1.3, "clip": true},
         "encoding": {
           "x": {"field": "d", "type": "temporal", "scale": {"domain": [{"year": 2010, "month": 10, "date": 16}, {"year": 2013, "month": 5, "date": 20}], "nice": false}, "axis": null},
           "y": {"field": "b", "type": "quantitative", "scale": {"domain": [0.24, 3.93], "nice": false}, "axis": null}}},
        {"data": {"values": [
            {"d": "2011-03-27", "v": 3.856, "t": "g"}, {"d": "2011-07-04", "v": 3.256, "t": "g"}, {"d": "2011-10-18", "v": 1.432, "t": "g"},
            {"d": "2011-12-02", "v": 1.548, "t": "g"}, {"d": "2012-08-03", "v": 2.587, "t": "g"}, {"d": "2012-12-05", "v": 2.656, "t": "g"},
            {"d": "2011-03-08", "v": 3.593, "t": "p"}, {"d": "2011-05-08", "v": 3.565, "t": "p"}, {"d": "2011-07-18", "v": 2.864, "t": "p"},
            {"d": "2012-04-25", "v": 2.887, "t": "p"}, {"d": "2011-11-22", "v": 1.285, "t": "p"}, {"d": "2012-10-21", "v": 2.48, "t": "p"}]},
         "mark": {"type": "point", "filled": true, "size": 800, "opacity": 0.72, "clip": true},
         "encoding": {
           "x": {"field": "d", "type": "temporal", "scale": {"domain": [{"year": 2010, "month": 10, "date": 16}, {"year": 2013, "month": 5, "date": 20}], "nice": false}, "axis": null},
           "y": {"field": "v", "type": "quantitative", "scale": {"domain": [0.24, 3.93], "nice": false}, "axis": null},
           "color": {"field": "t", "type": "nominal", "scale": {"domain": ["g", "p"], "range": ["#5fe05f", "#f28a8a"]}, "legend": null}}},
        {"data": {"values": [{"d": "2011-11-27", "v": 0.509}]},
         "mark": {"type": "point", "shape": "M0,-1L0.75,-0.15L0.3,-0.15L0.3,1L-0.3,1L-0.3,-0.15L-0.75,-0.15Z", "filled": true, "size": 300, "color": "#1717a5", "opacity": 1},
         "encoding": {
           "x": {"field": "d", "type": "temporal", "scale": {"domain": [{"year": 2010, "month": 10, "date": 16}, {"year": 2013, "month": 5, "date": 20}], "nice": false}, "axis": null},
           "y": {"field": "v", "type": "quantitative", "scale": {"domain": [0.24, 3.93], "nice": false}, "axis": null}}},
        {"data": {"values": [
            {"d": "2013-01-10", "v": 3.048, "t": "$SPXA200:$UST"},
            {"d": "2013-01-10", "v": 2.817, "t": "$SPXA200:$USB"},
            {"d": "2013-01-10", "v": 2.573, "t": "When this ratio is up,"},
            {"d": "2013-01-10", "v": 2.333, "t": "equities are favored over"},
            {"d": "2013-01-10", "v": 2.097, "t": "treasurys for the longer term"}]},
         "mark": {"type": "text", "align": "left", "baseline": "middle", "font": "Liberation Sans", "fontSize": 12, "fontWeight": "bold", "color": "#111111"},
         "encoding": {
           "x": {"field": "d", "type": "temporal", "scale": {"domain": [{"year": 2010, "month": 10, "date": 16}, {"year": 2013, "month": 5, "date": 20}], "nice": false}, "axis": null},
           "y": {"field": "v", "type": "quantitative", "scale": {"domain": [0.24, 3.93], "nice": false}, "axis": null},
           "text": {"field": "t"}}}
      ]
    }
  ]
}
